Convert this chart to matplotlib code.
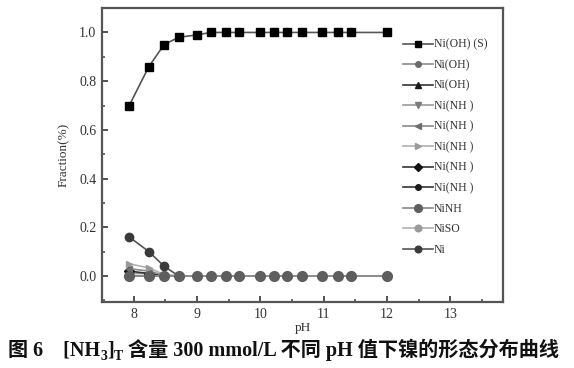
import matplotlib
matplotlib.use("Agg")
import matplotlib.pyplot as plt
from matplotlib.ticker import MultipleLocator

# ============================================
# Data
# ============================================

ph = [7.93, 8.24, 8.48, 8.71, 9.0, 9.22, 9.46, 9.67, 10.0, 10.22, 10.42, 10.65, 10.98, 11.23, 11.43, 12.0]

ni_oh2_s = [0.70, 0.86, 0.95, 0.98, 0.99, 1.0, 1.0, 1.0, 1.0, 1.0, 1.0, 1.0, 1.0, 1.0, 1.0, 1.0]
ni_oh_a = [0.0] * 16
ni_oh_b = [0.0] * 16
ni_nh3_a = [0.01, 0.01, 0.0, 0.0, 0.0, 0.0, 0.0, 0.0, 0.0, 0.0, 0.0, 0.0, 0.0, 0.0, 0.0, 0.0]
ni_nh3_b = [0.03, 0.02, 0.003, 0.0, 0.0, 0.0, 0.0, 0.0, 0.0, 0.0, 0.0, 0.0, 0.0, 0.0, 0.0, 0.0]
ni_nh3_c = [0.05, 0.033, 0.006, 0.0, 0.0, 0.0, 0.0, 0.0, 0.0, 0.0, 0.0, 0.0, 0.0, 0.0, 0.0, 0.0]
ni_nh3_d = [0.02, 0.01, 0.0, 0.0, 0.0, 0.0, 0.0, 0.0, 0.0, 0.0, 0.0, 0.0, 0.0, 0.0, 0.0, 0.0]
ni_nh3_e = [0.0] * 16
ninh3 = [0.0] * 16
niso4 = [0.0] * 16
ni = [0.16, 0.10, 0.04, 0.0, 0.0, 0.0, 0.0, 0.0, 0.0, 0.0, 0.0, 0.0, 0.0, 0.0, 0.0, 0.0]

labels = ["Ni(OH) (S)", "Ni(OH)", "Ni(OH)", "Ni(NH )", "Ni(NH )", "Ni(NH )",
          "Ni(NH )", "Ni(NH )", "NiNH", "NiSO", "Ni"]
series = [ni_oh2_s, ni_oh_a, ni_oh_b, ni_nh3_a, ni_nh3_b, ni_nh3_c,
          ni_nh3_d, ni_nh3_e, ninh3, niso4, ni]
markers = ["s", "o", "^", "v", "<", ">", "D", "o", "o", "o", "o"]
mcolors = ["#000000", "#6a6a6a", "#1a1a1a", "#7a7a7a", "#6e6e6e", "#9a9a9a",
           "#111111", "#1c1c1c", "#5e5e5e", "#9a9a9a", "#3a3a3a"]
lcolors = ["#555555", "#8a8a8a", "#333333", "#999999", "#8a8a8a", "#b0b0b0",
           "#333333", "#333333", "#888888", "#b0b0b0", "#555555"]
msizes = [6, 5, 5, 5, 5, 5, 5, 5, 7, 6, 6]

# draw order: zero-lines first, visible ones on top
order = [1, 2, 3, 6, 7, 10, 4, 5, 9, 8, 0]

# ============================================
# Plot
# ============================================

plt.rcParams["font.family"] = ["Liberation Serif", "Noto Sans CJK SC"]

fig = plt.figure(figsize=(5.74, 3.68), dpi=100)
ax = fig.add_axes([0.1777, 0.1793, 0.6986, 0.7987])

handles = {}
for i in order:
    h, = ax.plot(ph, series[i], marker=markers[i], color=lcolors[i],
                 markerfacecolor=mcolors[i], markeredgecolor=mcolors[i],
                 markersize=msizes[i], linewidth=1.2, label=labels[i])
    handles[i] = h

ax.set_xlim(7.5, 13.83)
ax.set_ylim(-0.107, 1.1)
ax.xaxis.set_major_locator(MultipleLocator(1))
ax.xaxis.set_minor_locator(MultipleLocator(0.5))
ax.yaxis.set_minor_locator(MultipleLocator(0.1))
ax.set_yticks([0.0, 0.2, 0.4, 0.6, 0.8, 1.0])
ax.set_yticklabels(["0.0", "0.2", "0.4", "0.6", "0.8", "1.0"])
ax.tick_params(which="major", direction="in", length=4, width=1.3,
               labelsize=10, labelcolor="#333333", color="#444444", pad=4)
ax.tick_params(which="minor", direction="in", length=2.5, width=1.1, color="#444444")
for sp in ax.spines.values():
    sp.set_linewidth(1.6)
    sp.set_color("#555555")

ax.set_xlabel("pH", fontsize=9.5, color="#333333", labelpad=1)
ax.set_ylabel("Fraction(%)", fontsize=9.5, color="#333333", labelpad=7)

ax.legend([handles[i] for i in range(11)], labels, loc="upper left",
          bbox_to_anchor=(0.725, 0.932), frameon=False, fontsize=8.5,
          handlelength=2.5, handletextpad=0.1, labelspacing=0.72,
          markerscale=0.8, labelcolor="#333333")

# ============================================
# Caption
# ============================================

cap_kw = dict(fontsize=14.5, fontweight="bold", color="#111111")
sub_kw = dict(fontsize=10, fontweight="bold", color="#111111")
t1 = fig.text(8 / 574, 12 / 368, "图 6    [NH", va="baseline", ha="left", **cap_kw)
t2 = ax.annotate("3", xy=(1, 0), xycoords=(t1, t1), xytext=(0, -1.5),
                 textcoords="offset points", va="bottom", ha="left",
                 annotation_clip=False, **sub_kw)
t3 = ax.annotate("]", xy=(1, 0), xycoords=(t2, t1), va="bottom", ha="left",
                 annotation_clip=False, **cap_kw)
t4 = ax.annotate("T", xy=(1, 0), xycoords=(t3, t1), xytext=(0, -1.5),
                 textcoords="offset points", va="bottom", ha="left",
                 annotation_clip=False, **sub_kw)
t5 = ax.annotate(" 含量 300 mmol/L 不同 pH 值下镍的形态分布曲线", xy=(1, 0),
                 xycoords=(t4, t1), va="bottom", ha="left",
                 annotation_clip=False, **cap_kw)

fig.savefig("out.png", dpi=100)
